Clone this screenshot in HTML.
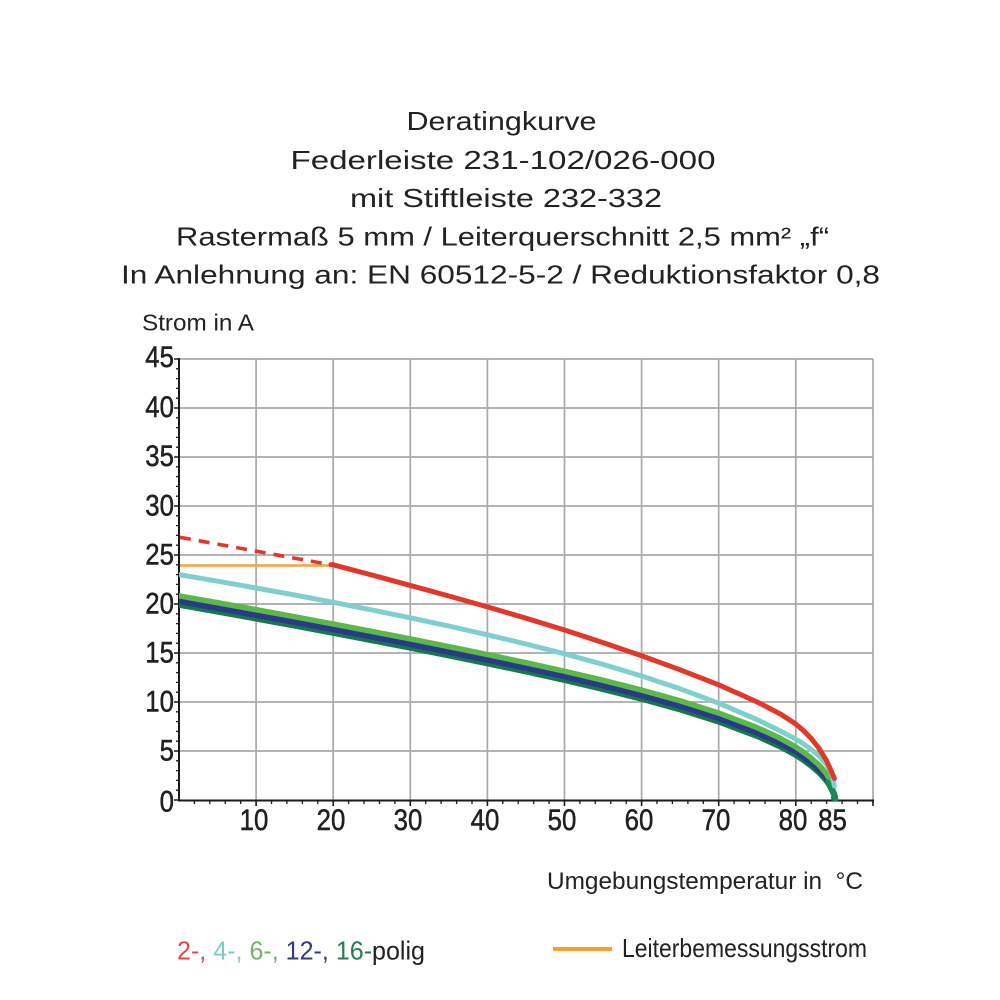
<!DOCTYPE html>
<html>
<head>
<meta charset="utf-8">
<style>
  html, body { margin: 0; padding: 0; background: #ffffff; }
  body { width: 1000px; height: 1000px; overflow: hidden; }
  svg { display: block; }
  text { font-family: "Liberation Sans", "DejaVu Sans", sans-serif; fill: #222; }
</style>
</head>
<body>
<svg width="1000" height="1000" viewBox="0 0 1000 1000" xmlns="http://www.w3.org/2000/svg">
  <defs>
    <polyline id="band" points="179,601.2 217.55,608 256.1,615 294.65,622.1 333.2,629.3 371.75,636.7 410.3,644.2 448.85,651.9 487.4,659.8 525.95,668 564.5,676.5 603.05,685.6 641.6,695.3 680.15,706 718.7,718.2 757.25,732.7 780.38,743.3 795.8,751.8 803.51,756.9 811.22,762.7 818.93,769.5 822.79,773.6 826.64,778.4 828.95,782 830.5,784.8 831.6,787.2 832.8,790.4 833.6,793.2 834.1,796.3 834.35,800"/>
    <clipPath id="plot">
      <rect x="179" y="340" width="700" height="461"/>
    </clipPath>
  </defs>

  <rect x="0" y="0" width="1000" height="1000" fill="#ffffff"/>

  <!-- Title -->
  <g font-size="26" text-anchor="middle">
    <text x="501.5" y="130" textLength="190" lengthAdjust="spacingAndGlyphs">Deratingkurve</text>
    <text x="503" y="169" textLength="425" lengthAdjust="spacingAndGlyphs">Federleiste 231-102/026-000</text>
    <text x="506" y="207" textLength="312" lengthAdjust="spacingAndGlyphs">mit Stiftleiste 232-332</text>
    <text x="502.5" y="245.5" textLength="653" lengthAdjust="spacingAndGlyphs">Rastermaß 5 mm / Leiterquerschnitt 2,5 mm² „f“</text>
    <text x="500.5" y="283.5" textLength="759" lengthAdjust="spacingAndGlyphs">In Anlehnung an: EN 60512-5-2 / Reduktionsfaktor 0,8</text>
  </g>

  <text x="142" y="330.5" font-size="23" textLength="112" lengthAdjust="spacingAndGlyphs">Strom in A</text>

  <!-- Grid -->
  <g stroke="#a9a9a9" stroke-width="1.7" fill="none">
    <line x1="179" y1="359" x2="873" y2="359"/>
    <line x1="179" y1="408" x2="873" y2="408"/>
    <line x1="179" y1="457" x2="873" y2="457"/>
    <line x1="179" y1="506" x2="873" y2="506"/>
    <line x1="179" y1="555" x2="873" y2="555"/>
    <line x1="179" y1="604" x2="873" y2="604"/>
    <line x1="179" y1="653" x2="873" y2="653"/>
    <line x1="179" y1="702" x2="873" y2="702"/>
    <line x1="179" y1="751" x2="873" y2="751"/>
    <line x1="256.1" y1="359" x2="256.1" y2="800"/>
    <line x1="333.2" y1="359" x2="333.2" y2="800"/>
    <line x1="410.3" y1="359" x2="410.3" y2="800"/>
    <line x1="487.4" y1="359" x2="487.4" y2="800"/>
    <line x1="564.5" y1="359" x2="564.5" y2="800"/>
    <line x1="641.6" y1="359" x2="641.6" y2="800"/>
    <line x1="718.7" y1="359" x2="718.7" y2="800"/>
    <line x1="795.8" y1="359" x2="795.8" y2="800"/>
    <line x1="873" y1="359" x2="873" y2="800"/>
  </g>

  <!-- Axes -->
  <g stroke="#1a1a1a" fill="none">
    <line x1="179" y1="358" x2="179" y2="801" stroke-width="2"/>
    <line x1="178" y1="800.5" x2="874" y2="800.5" stroke-width="2"/>
  </g>
  <g stroke="#1a1a1a" stroke-width="1.3">
    <path d="M176 790.2H179M176 780.4H179M176 770.6H179M176 760.8H179
             M176 741.2H179M176 731.4H179M176 721.6H179M176 711.8H179
             M176 692.2H179M176 682.4H179M176 672.6H179M176 662.8H179
             M176 643.2H179M176 633.4H179M176 623.6H179M176 613.8H179
             M176 594.2H179M176 584.4H179M176 574.6H179M176 564.8H179
             M176 545.2H179M176 535.4H179M176 525.6H179M176 515.8H179
             M176 496.2H179M176 486.4H179M176 476.6H179M176 466.8H179
             M176 447.2H179M176 437.4H179M176 427.6H179M176 417.8H179
             M176 398.2H179M176 388.4H179M176 378.6H179M176 368.8H179"/>
    <path d="M174 359H179M174 408H179M174 457H179M174 506H179M174 555H179M174 604H179M174 653H179M174 702H179M174 751H179M174 800H179" stroke-width="1.6"/>
  </g>
  <g stroke="#1a1a1a" stroke-width="1.3">
    <path d="M194.4 800V804M209.8 800V804M225.3 800V804M240.7 800V804
             M271.5 800V804M286.9 800V804M302.4 800V804M317.8 800V804
             M348.6 800V804M364 800V804M379.5 800V804M394.9 800V804
             M425.7 800V804M441.1 800V804M456.6 800V804M472 800V804
             M502.8 800V804M518.2 800V804M533.7 800V804M549.1 800V804
             M579.9 800V804M595.3 800V804M610.8 800V804M626.2 800V804
             M657 800V804M672.4 800V804M687.9 800V804M703.3 800V804
             M734.1 800V804M749.5 800V804M765 800V804M780.4 800V804
             M811.2 800V804M826.6 800V804M842.1 800V804M857.5 800V804"/>
    <path d="M256.1 800V806M333.2 800V806M410.3 800V806M487.4 800V806M564.5 800V806M641.6 800V806M718.7 800V806M795.8 800V806M873 800V806" stroke-width="1.6"/>
  </g>

  <!-- Y labels -->
  <g transform="translate(174 0) scale(0.86 1)" font-size="30" text-anchor="end" style="fill:#1a1a1a" stroke="#1a1a1a" stroke-width="0.5">
    <text x="0" y="367">45</text>
    <text x="0" y="417">40</text>
    <text x="0" y="466">35</text>
    <text x="0" y="515.5">30</text>
    <text x="0" y="564.5">25</text>
    <text x="0" y="613.5">20</text>
    <text x="0" y="662.5">15</text>
    <text x="0" y="711.5">10</text>
    <text x="0" y="760.5">5</text>
    <text x="0" y="811.5">0</text>
  </g>

  <!-- X labels -->
  <g font-size="30" text-anchor="middle" style="fill:#1a1a1a" stroke="#1a1a1a" stroke-width="0.5">
    <text transform="translate(254 830) scale(0.86 1)">10</text>
    <text transform="translate(331 830) scale(0.86 1)">20</text>
    <text transform="translate(408 830) scale(0.86 1)">30</text>
    <text transform="translate(485 830) scale(0.86 1)">40</text>
    <text transform="translate(562 830) scale(0.86 1)">50</text>
    <text transform="translate(639 830) scale(0.86 1)">60</text>
    <text transform="translate(716 830) scale(0.86 1)">70</text>
    <text transform="translate(793 830) scale(0.86 1)">80</text>
    <text transform="translate(832.5 830) scale(0.86 1)">85</text>
  </g>

  <g clip-path="url(#plot)" fill="none" stroke-linejoin="round" stroke-linecap="round">
    <line x1="180" y1="565.5" x2="331" y2="565.5" stroke="#f4a43e" stroke-width="2.6" stroke-linecap="butt"/>
    <line x1="180" y1="537.3" x2="331" y2="564.8" stroke="#e0392b" stroke-width="3.6" stroke-dasharray="11 8" stroke-linecap="butt"/>

    <!-- 16-pol dark green -->
    <use href="#band" transform="translate(1 3.5)" stroke="#167a47" stroke-width="6.5"/>
    <!-- 12-pol navy -->
    <use href="#band" stroke="#2a3a8a" stroke-width="6"/>
    <!-- 6-pol light green -->
    <use href="#band" transform="translate(-1 -5.5)" stroke="#5cb84a" stroke-width="5.5"/>
    <!-- tip -->
    <polyline transform="translate(1 3.5)" stroke="#1a8a55" stroke-width="5"
      points="826.64,778.4 828.95,782 830.5,784.8 831.6,787.2 832.8,790.4 833.6,793.2 834.1,796.3 834.35,800"/>

    <!-- 4-pol cyan -->
    <polyline stroke="#7fcfce" stroke-width="5"
      points="179,574.6 217.55,581.2 256.1,588 294.65,595 333.2,602.3 371.75,609.9 410.3,617.8 448.85,626.1 487.4,634.8 525.95,644 564.5,653.8 603.05,664.4 641.6,676 680.15,688.8 718.7,703.2 757.25,719.7 780.38,731 795.8,739.2 803.51,743.9 811.22,749.4 818.93,756 826.64,764.6 830.5,771 832.8,777 834.35,786"/>

    <!-- 2-pol red -->
    <polyline stroke="#e0392b" stroke-width="5"
      points="331,564.6 333.2,564.8 371.75,575 410.3,585.4 448.85,596 487.4,606.9 525.95,618.2 564.5,630 603.05,642.6 641.6,655.8 680.15,669.8 718.7,684.8 757.25,702 780.38,714 795.8,724 803.51,730.6 811.22,738.5 818.93,748.3 826.64,760.8 830.5,769.5 834.35,778.4"/>
  </g>

  <!-- X axis title -->
  <text x="547" y="889" font-size="24.5" textLength="316" lengthAdjust="spacingAndGlyphs">Umgebungstemperatur in&#160; °C</text>

  <!-- Legend -->
  <text x="177" y="959.5" font-size="26" textLength="248" lengthAdjust="spacingAndGlyphs"><tspan fill="#e0484a">2-, </tspan><tspan fill="#80c9c8">4-, </tspan><tspan fill="#74b46a">6-, </tspan><tspan fill="#343a82">12-, </tspan><tspan fill="#2a7a58">16-</tspan><tspan fill="#222">polig</tspan></text>

  <line x1="553" y1="949" x2="612" y2="949" stroke="#f2a030" stroke-width="4"/>
  <text x="622" y="957" font-size="26" textLength="245" lengthAdjust="spacingAndGlyphs">Leiterbemessungsstrom</text>
</svg>
</body>
</html>
